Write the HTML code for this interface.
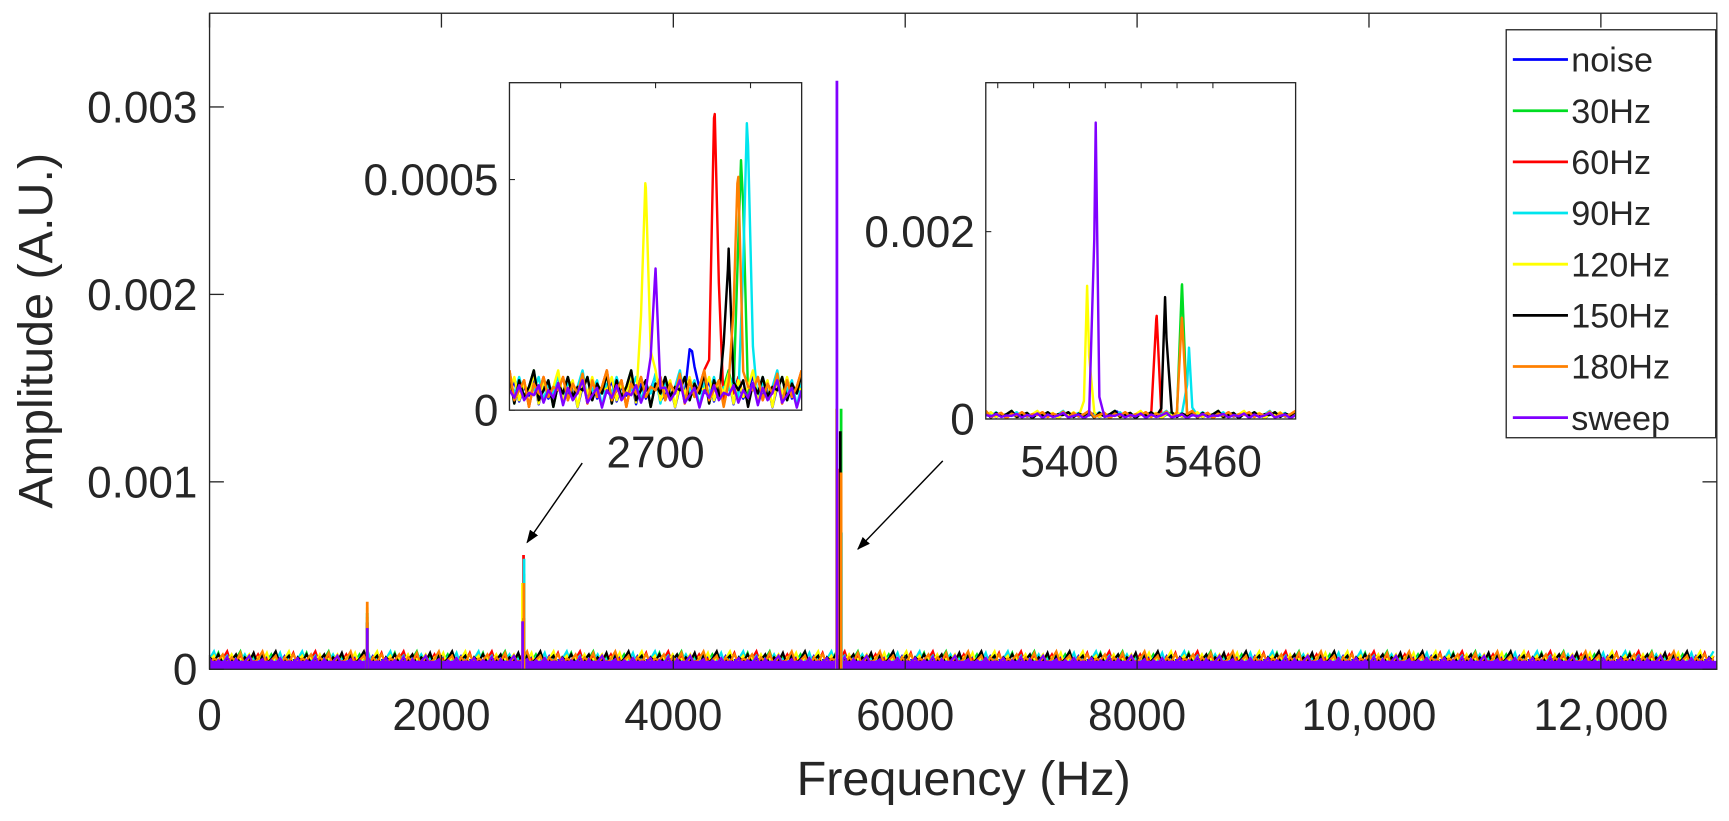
<!DOCTYPE html>
<html><head><meta charset="utf-8"><style>
html,body{margin:0;padding:0;background:#fff;}
svg{display:block;font-family:"Liberation Sans",Arial,sans-serif;}
</style></head><body>
<svg id="chart" width="1729" height="821" viewBox="0 0 1568 744.6" xmlns="http://www.w3.org/2000/svg"></svg>
<script>
// ---- data ----
const seriesNames = ["noise","30Hz","60Hz","90Hz","120Hz","150Hz","180Hz","sweep"];
const seriesColors = ["#0000ff","#00dd22","#ff0000","#00e5ee","#ffff00","#000000","#ff8000","#8000ff"];
const peak1360 = [0, 0.00030, 0.00028, 0.00030, 0.00033, 0.00025, 0.00036, 0.00022];
const peak2700Freq = [2705, 2711.7, 2708.1, 2712.5, 2698.6, 2709.9, 2711.2, 2699.9];
const peak2700Amp  = [0.00010, 0.00051, 0.00061, 0.00059, 0.00046, 0.000273, 0.00046, 0.000256];
const peak5420Freq = [5420, 5447, 5436.5, 5450, 5407.4, 5440, 5447, 5411];
const peak5420Amp  = [0.00005, 0.00139, 0.00107, 0.00073, 0.00139, 0.00127, 0.00105, 0.00314];
const noiseLevel = [0.00007, 0.00008, 0.00008, 0.00008, 0.00008, 0.00008, 0.00008, 0.00006];
const noisePattern = [0.6,1.0,0.3,0.8,0.5,1.1,0.2,0.9,0.4,0.7,1.2,0.3,0.6,0.9,0.1,0.8,0.5,1.0,0.4,0.7];
const xTicks = [0,2000,4000,6000,8000,10000,12000];
const xTickLabels = ["0","2000","4000","6000","8000","10,000","12,000"];
const yTicks = [0,0.001,0.002,0.003];
const yTickLabels = ["0","0.001","0.002","0.003"];

const NS="http://www.w3.org/2000/svg";
const svg=document.getElementById('chart');
function mk(tag,attrs,parent){const e=document.createElementNS(NS,tag);for(const k in attrs)e.setAttribute(k,attrs[k]);(parent||svg).appendChild(e);return e;}
function txt(s,attrs,parent){const e=mk('text',attrs,parent);e.textContent=s;return e;}

const M={l:190,r:1557,t:12,b:607,x0:0,x1:13000,y0:0,y1:0.0035};
const mx=v=>M.l+(v-M.x0)/(M.x1-M.x0)*(M.r-M.l);
const my=v=>M.b-(v-M.y0)/(M.y1-M.y0)*(M.b-M.t);

const plot=mk('g',{});


const mcp=mk('clipPath',{id:'mclip'});
mk('rect',{x:M.l,y:M.t,width:M.r-M.l,height:M.b-M.t},mcp);
const mg=mk('g',{'clip-path':'url(#mclip)'},plot);

seriesNames.forEach((n,i)=>{
  let pts=[];const step=4;let k=i*3;
  for(let x=M.l;x<=M.r;x+=step){const v=noiseLevel[i]*noisePattern[(k++)%noisePattern.length];pts.push(x+','+my(v));}
  const p=mk('polyline',{points:pts.join(' '),fill:'none',stroke:seriesColors[i],'stroke-width':2},mg);
  
  
});
const band=mk('rect',{x:M.l,y:my(noiseLevel[7]*0.75),width:M.r-M.l,height:M.b-my(noiseLevel[7]*0.75),fill:'#8000ff'},mg);


seriesNames.forEach((n,i)=>{
  [[1360,peak1360[i]],[peak2700Freq[i],peak2700Amp[i]],[peak5420Freq[i],peak5420Amp[i]]].forEach(([f,a],j)=>{
    const l=mk('line',{x1:mx(f),x2:mx(f),y1:my(0),y2:my(a),stroke:seriesColors[i],'stroke-width':2.5},mg);
    
    
  });
});
const fr=mk('rect',{x:M.l,y:M.t,width:M.r-M.l,height:M.b-M.t,fill:'none',stroke:'#262626','stroke-width':1.2},plot);


xTicks.forEach((v,i)=>{
  mk('line',{x1:mx(v),x2:mx(v),y1:M.t,y2:M.t+13,stroke:'#262626','stroke-width':1.2});
  mk('line',{x1:mx(v),x2:mx(v),y1:M.b,y2:M.b-13,stroke:'#262626','stroke-width':1.2});
  const t=txt(xTickLabels[i],{x:mx(v),y:662,'font-size':40,'text-anchor':'middle',fill:'#262626'});
  
  
});
yTicks.forEach((v,i)=>{
  mk('line',{x1:M.l,x2:M.l+13,y1:my(v),y2:my(v),stroke:'#262626','stroke-width':1.2});
  mk('line',{x1:M.r,x2:M.r-13,y1:my(v),y2:my(v),stroke:'#262626','stroke-width':1.2});
  const t=txt(yTickLabels[i],{x:179,y:my(v)+14,'font-size':40,'text-anchor':'end',fill:'#262626'});
  
  
});
const xt=txt('Frequency (Hz)',{x:874,y:721,'font-size':44,'text-anchor':'middle',fill:'#262626'});


const yt=txt('Amplitude (A.U.)',{x:0,y:0,'font-size':44,'text-anchor':'middle',fill:'#262626',transform:'translate(47,300) rotate(-90)'});



function inset(name,box,xr,yr,freqs,amps,width,xt,xl,yt,yl){
  const g=mk('g',{});
  
  
  const sx=v=>box.l+(v-xr[0])/(xr[1]-xr[0])*(box.r-box.l);
  const sy=v=>box.b-(v-yr[0])/(yr[1]-yr[0])*(box.b-box.t);
  mk('rect',{x:box.l,y:box.t,width:box.r-box.l,height:box.b-box.t,fill:'#fff'},g);
  const cid=name+'-clip';
  const cp=mk('clipPath',{id:cid},g);mk('rect',{x:box.l,y:box.t,width:box.r-box.l,height:box.b-box.t},cp);
  const dg=mk('g',{'clip-path':'url(#'+cid+')'},g);
  seriesNames.forEach((n,i)=>{
    const pts=[];const N=60;
    for(let k=0;k<=N;k++){
      const f=xr[0]+(xr[1]-xr[0])*k/N;
      let v=noiseLevel[i]*noisePattern[(k+i*5)%noisePattern.length]*0.9;
      const d=(f-freqs[i])/width;v+=amps[i]*Math.exp(-d*d);
      pts.push([sx(f),sy(v)]);
    }
    pts.push([sx(freqs[i]),sy(amps[i]+noiseLevel[i]*0.4)]);
    pts.sort((a,b)=>a[0]-b[0]);
    const p=mk('polyline',{points:pts.map(q=>q[0].toFixed(1)+','+q[1].toFixed(1)).join(' '),fill:'none',stroke:seriesColors[i],'stroke-width':2.2,'stroke-linejoin':'round'},dg);
    
    
  });
  mk('rect',{x:box.l,y:box.t,width:box.r-box.l,height:box.b-box.t,fill:'none',stroke:'#262626','stroke-width':1.2},g);
  xt.forEach((v,i)=>{
    mk('line',{x1:sx(v),x2:sx(v),y1:box.t,y2:box.t+5,stroke:'#262626'},g);
    if(xl[i]){const t=txt(xl[i],{x:sx(v),y:box.b+52,'font-size':40,'text-anchor':'middle',fill:'#262626'},g);
      
      }
  });
  yt.forEach((v,i)=>{
    mk('line',{x1:box.l,x2:box.l+5,y1:sy(v),y2:sy(v),stroke:'#262626'},g);
    const t=txt(yl[i],{x:box.l-10,y:sy(v)+14,'font-size':40,'text-anchor':'end',fill:'#262626'},g);
    
    
  });
}
inset('inset-2700',{l:462,r:727,t:75,b:372},[2680,2720],[0,0.00071],peak2700Freq,peak2700Amp,0.55,
  [2687,2700,2713],["","2700",""],[0,0.0005],["0","0.0005"]);
inset('inset-5420',{l:894,r:1175,t:75,b:380},[5365,5494.6],[0,0.00359],peak5420Freq,peak5420Amp,0.9,
  [5370,5385,5400,5415,5430,5445,5460],["","","5400","","","","5460"],[0,0.002],["0","0.002"]);

const defs=mk('defs',{});
const mkr=mk('marker',{id:'ah',markerWidth:12,markerHeight:9,refX:11,refY:4.5,orient:'auto',markerUnits:'userSpaceOnUse'},defs);
mk('path',{d:'M0,0 L12,4.5 L0,9 Z',fill:'#000'},mkr);
const a1=mk('line',{x1:528,y1:420,x2:478,y2:492,stroke:'#000','stroke-width':1.3,'marker-end':'url(#ah)'});


const a2=mk('line',{x1:855,y1:418,x2:778,y2:498,stroke:'#000','stroke-width':1.3,'marker-end':'url(#ah)'});



const lg=mk('g',{});


mk('rect',{x:1366,y:27,width:190,height:370,fill:'#fff',stroke:'#262626','stroke-width':1.2},lg);
seriesNames.forEach((n,i)=>{
  const y=54+i*46.4;
  const e=mk('g',{},lg);
  
  
  mk('line',{x1:1372,x2:1422,y1:y,y2:y,stroke:seriesColors[i],'stroke-width':2.5},e);
  txt(n,{x:1425,y:y+11,'font-size':31,fill:'#262626'},e);
});
</script>
</body></html>
